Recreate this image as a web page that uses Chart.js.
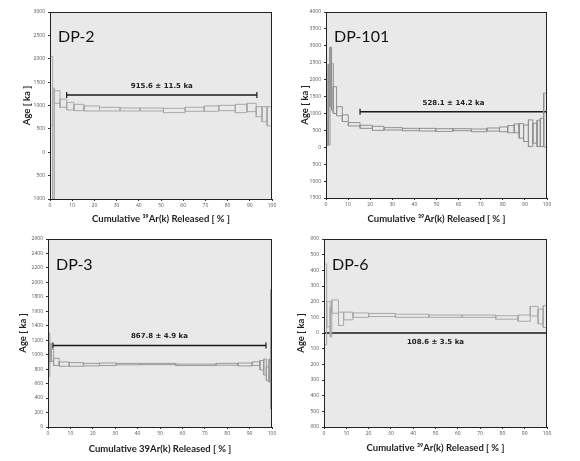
<!DOCTYPE html>
<html>
<head>
<meta charset="utf-8">
<script src="https://cdn.jsdelivr.net/npm/chart.js@4"></script>
<style>
body { margin: 0; background: #fff; width: 580px; height: 461px; position: relative; overflow: hidden; }
canvas { position: absolute; }
</style>
</head>
<body>
<canvas id="dp2" width="290" height="230" style="left:0;top:0"></canvas>
<canvas id="dp101" width="290" height="230" style="left:290px;top:0"></canvas>
<canvas id="dp3" width="290" height="231" style="left:0;top:230px"></canvas>
<canvas id="dp6" width="290" height="231" style="left:290px;top:230px"></canvas>
<script>
// step edges (cumulative % 39Ar released), box bottoms and tops (age, ka)
var dp2Edges = [0, 1.2, 2.0, 4.5, 7.5, 10.8, 15.3, 22.3, 31.6, 40.6, 51.1, 60.9, 69.5, 76, 83.5, 88.7, 92.9, 95.5, 97.8, 100]
var dp2Low = [580, -1000, 1046, 961, 904, 890, 883, 883, 883, 883, 847, 876, 876, 890, 847, 868, 762, 655, 563]
var dp2High = [2050, 1370, 1316, 1138, 1067, 1025, 990, 961, 947, 947, 940, 961, 990, 1004, 1025, 1046, 975, 975, 975]

var dp101Edges = [0, 1.0, 1.8, 2.5, 3.3, 4.8, 7.4, 10.1, 15.4, 21.0, 26.3, 34.6, 42.3, 49.6, 57.5, 65.8, 72.8, 78.5, 82.2, 85.2, 87.4, 89.4, 91.6, 93.6, 95.5, 97.0, 98.5, 100]
var dp101Low = [60, 70, 1200, 1100, 1000, 930, 760, 630, 560, 500, 510, 490, 480, 470, 490, 460, 480, 460, 430, 430, 270, 170, 20, 120, 20, 20, 10]
var dp101High = [720, 2450, 2960, 2470, 1790, 1200, 960, 730, 650, 620, 580, 560, 560, 550, 550, 540, 570, 600, 640, 690, 700, 660, 810, 710, 800, 860, 1600]

var dp3Edges = [0, 0.8, 1.5, 2.5, 5.0, 9.5, 15.8, 23.0, 30.5, 41.5, 57.0, 75.0, 84.8, 91.2, 94.6, 96.3, 97.5, 98.7, 99.4, 100]
var dp3Low = [700, 900, 910, 850, 840, 840, 845, 850, 860, 862, 850, 855, 845, 850, 790, 720, 640, 620, 250]
var dp3High = [1300, 1160, 1080, 950, 900, 890, 880, 885, 880, 880, 870, 880, 885, 900, 920, 940, 830, 940, 1900]

var dp6Edges = [0, 1.2, 2.8, 3.5, 6.5, 8.8, 13.0, 20.0, 32.0, 47.0, 62.0, 77.0, 87.0, 92.5, 96.0, 98.3, 100]
var dp6Low = [-75, 40, -25, 126, 48, 84, 100, 105, 100, 100, 100, 88, 75, 109, 58, 35]
var dp6High = [440, 200, 165, 211, 133, 133, 128, 125, 120, 115, 115, 110, 115, 170, 152, 175]

// plateau bars: [start %, end %, drawn level]
var plateauStart = [7.5, 15.4, 2.2, 0]
var plateauEnd = [93.2, 100, 97.3, 100]
var plateauLevel = [1225, 1050, 1127, 0]
var plateauText = ['915.6 ± 11.5 ka', '528.1 ± 14.2 ka', '867.8 ± 4.9 ka', '108.6 ± 3.5 ka']
var panelNames = ['DP-2', 'DP-101', 'DP-3', 'DP-6']

var sansFont = "'Open Sans', sans-serif"
var titleFont = "Lato, sans-serif"

function boxPath(edges, low, high) {
    var pts = []
    for (var i = 0; i < low.length; i++) {
        var a = edges[i], b = edges[i + 1]
        pts.push({x: a, y: low[i]}, {x: b, y: low[i]}, {x: b, y: high[i]}, {x: a, y: high[i]}, {x: a, y: low[i]}, {x: b, y: null})
    }
    return pts
}

const decor = {
    id: 'decor',
    beforeDraw(chart, args, o) {
        const a = chart.chartArea, ctx = chart.ctx
        ctx.save()
        ctx.fillStyle = '#e9e9e9'
        ctx.fillRect(a.left, a.top, a.right - a.left, a.bottom - a.top)
        ctx.restore()
    },
    afterDraw(chart, args, o) {
        const a = chart.chartArea, ctx = chart.ctx
        ctx.save()
        ctx.strokeStyle = '#222'
        ctx.lineWidth = 1
        ctx.strokeRect(a.left + 0.5, a.top + 0.5, a.right - a.left - 1, a.bottom - a.top)
        ctx.fillStyle = '#111'
        ctx.font = '16px ' + titleFont
        ctx.textBaseline = 'middle'
        ctx.textAlign = 'left'
        ctx.fillText(o.name, a.left + 8, o.nameY)
        const xs = chart.scales.x, ys = chart.scales.y
        ctx.font = 'bold 7px DejaVu Sans'
        ctx.textAlign = 'center'
        ctx.fillStyle = '#222'
        ctx.fillText(o.text, xs.getPixelForValue(o.mid), ys.getPixelForValue(o.level) + o.textOffset)
        ctx.restore()
    }
}

function makeChart(id, k, edges, low, high, s) {
    const lh = 9 * 1.2
    return new Chart(document.getElementById(id), {
        type: 'line',
        data: {
            datasets: [{
                data: boxPath(edges, low, high),
                borderColor: s.boxColor,
                borderWidth: 1,
                pointRadius: 0,
                spanGaps: false,
                tension: 0
            }, {
                data: [{x: plateauStart[k], y: plateauLevel[k]}, {x: plateauEnd[k], y: plateauLevel[k]}],
                borderColor: '#1a1a1a',
                borderWidth: 1.5,
                pointStyle: 'line',
                rotation: 90,
                pointRadius: 3,
                pointBorderColor: '#1a1a1a',
                pointBorderWidth: 1.2
            }]
        },
        options: {
            responsive: false,
            animation: false,
            layout: {padding: {left: s.yTitleX - lh / 2, top: s.top, right: s.right, bottom: s.h - s.xTitleY - lh / 2}},
            plugins: {
                legend: {display: false},
                tooltip: {enabled: false},
                decor: {
                    name: panelNames[k],
                    nameY: s.nameY,
                    text: plateauText[k],
                    mid: (plateauStart[k] + plateauEnd[k]) / 2,
                    level: plateauLevel[k],
                    textOffset: s.textOffset
                }
            },
            scales: {
                x: {
                    type: 'linear', min: 0, max: 100,
                    ticks: {stepSize: 10, font: {size: 5, family: sansFont}, color: '#555', padding: 2, maxRotation: 0, autoSkip: false},
                    grid: {drawOnChartArea: false, tickLength: 2, color: '#333'},
                    border: {color: '#222'},
                    title: {display: true, text: s.xTitle, font: {size: 9.5, weight: 'bold', family: titleFont}, color: '#222', padding: 0},
                    afterFit: function (sc) { sc.height = s.h - s.bottom - (s.h - s.xTitleY - lh / 2) }
                },
                y: {
                    min: s.min, max: s.max,
                    ticks: {stepSize: s.step, font: {size: 5, family: sansFont}, color: '#555', padding: 3, autoSkip: false,
                        callback: function (v) { return Math.abs(v) }},
                    grid: {drawOnChartArea: false, tickLength: 2, color: '#333'},
                    border: {color: '#222'},
                    title: {display: true, text: 'Age [ ka ]', font: {size: 9.5, weight: 'bold', family: titleFont}, color: '#222', padding: 0},
                    afterFit: function (sc) { sc.width = s.left - (s.yTitleX - lh / 2) }
                }
            }
        },
        plugins: [decor]
    })
}

var supTitle = 'Cumulative \u00b3\u2079Ar(k) Released [ % ]'

makeChart('dp2', 0, dp2Edges, dp2Low, dp2High, {
    h: 230, left: 50, top: 12, right: 18, bottom: 199, yTitleX: 27, xTitleY: 219, nameY: 37,
    min: -1000, max: 3000, step: 500, boxColor: '#a8a8a8', textOffset: -9, xTitle: supTitle
})
makeChart('dp101', 1, dp101Edges, dp101Low, dp101High, {
    h: 230, left: 36, top: 12, right: 33, bottom: 198, yTitleX: 15, xTitleY: 219, nameY: 37,
    min: -1500, max: 4000, step: 500, boxColor: '#909090', textOffset: -9, xTitle: supTitle
})
makeChart('dp3', 2, dp3Edges, dp3Low, dp3High, {
    h: 231, left: 48, top: 9, right: 18, bottom: 197, yTitleX: 23, xTitleY: 219, nameY: 35,
    min: 0, max: 2600, step: 200, boxColor: '#9a9a9a', textOffset: -9, xTitle: 'Cumulative 39Ar(k) Released [ % ]'
})
makeChart('dp6', 3, dp6Edges, dp6Low, dp6High, {
    h: 231, left: 34, top: 9, right: 33, bottom: 197, yTitleX: 11, xTitleY: 218, nameY: 35,
    min: -600, max: 600, step: 100, boxColor: '#a8a8a8', textOffset: 9, xTitle: supTitle
})
</script>
</body>
</html>
